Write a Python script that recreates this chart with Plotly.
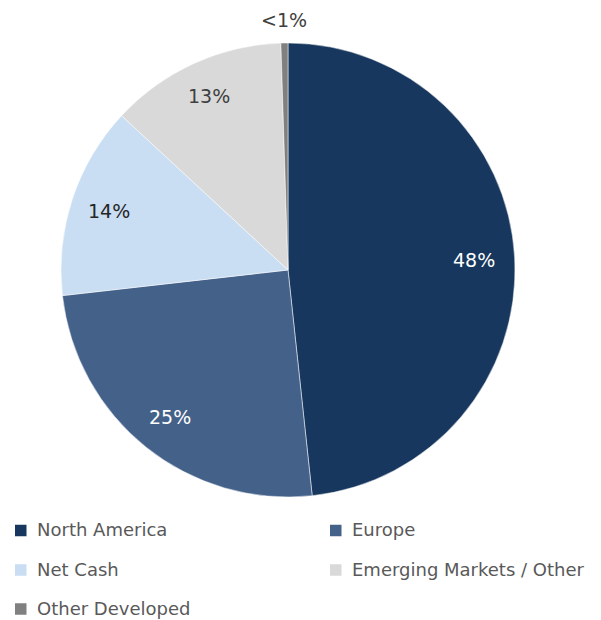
import math
import plotly.graph_objects as go

labels = ["North America", "Europe", "Net Cash", "Emerging Markets / Other", "Other Developed"]
values = [48.3, 24.9, 13.7, 12.6, 0.5]
colors = ["#17375E", "#44618A", "#C9DDF3", "#D9D9D9", "#808080"]
text_colors = ["#FFFFFF", "#FFFFFF", "#262626", "#404040", "#404040"]
label_radius = [0.82, 0.83, 0.83, 0.84, 1.10]

W, H = 601, 620
FONT = "DejaVu Sans"

pct_text = [f"{round(v)}%" if v >= 1 else "<1%" for v in values]

cx, cy, r = 288, 270, 227
fig = go.Figure(go.Pie(
    labels=labels,
    values=values,
    textinfo="none",
    marker=dict(colors=colors, line=dict(color="white", width=0.5)),
    sort=False,
    direction="clockwise",
    rotation=0,
    showlegend=False,
    hoverinfo="label+percent",
    domain=dict(x=[(cx - r) / W, (cx + r) / W], y=[1 - (cy + r) / H, 1 - (cy - r) / H]),
))

annotations = []
shapes = []

# data labels placed at each slice's mid-angle
total = sum(values)
cum = 0.0
for v, t, tc, rf in zip(values, pct_text, text_colors, label_radius):
    mid = (cum + v / 2) / total * 2 * math.pi
    cum += v
    px = cx + rf * r * math.sin(mid)
    py = cy - rf * r * math.cos(mid)
    annotations.append(dict(x=px / W, y=1 - py / H, xref="paper", yref="paper",
                            text=t, showarrow=False, xanchor="center", yanchor="middle",
                            font=dict(family=FONT, size=19, color=tc)))

# manual two-column legend
col_x = [15, 330]
row_y = [530.5, 570, 609]
sq = 11.5
for i, (lab, col) in enumerate(zip(labels, colors)):
    rx = col_x[i % 2]
    ry = row_y[i // 2]
    shapes.append(dict(type="rect", xref="paper", yref="paper",
                       x0=rx / W, x1=(rx + sq) / W,
                       y0=1 - (ry + sq / 2) / H, y1=1 - (ry - sq / 2) / H,
                       fillcolor=col, line=dict(width=0)))
    annotations.append(dict(x=(rx + sq + 8) / W, y=1 - (ry - 1) / H, xref="paper", yref="paper",
                            text=lab, showarrow=False, xanchor="left", yanchor="middle",
                            font=dict(family=FONT, size=18, color="#595959")))

fig.update_layout(
    width=W, height=H,
    margin=dict(l=0, r=0, t=0, b=0),
    paper_bgcolor="white", plot_bgcolor="white",
    shapes=shapes, annotations=annotations,
    font=dict(family=FONT),
)

fig.write_html("out.html", config={"displayModeBar": False},
               post_script="document.body.style.margin='0';")
